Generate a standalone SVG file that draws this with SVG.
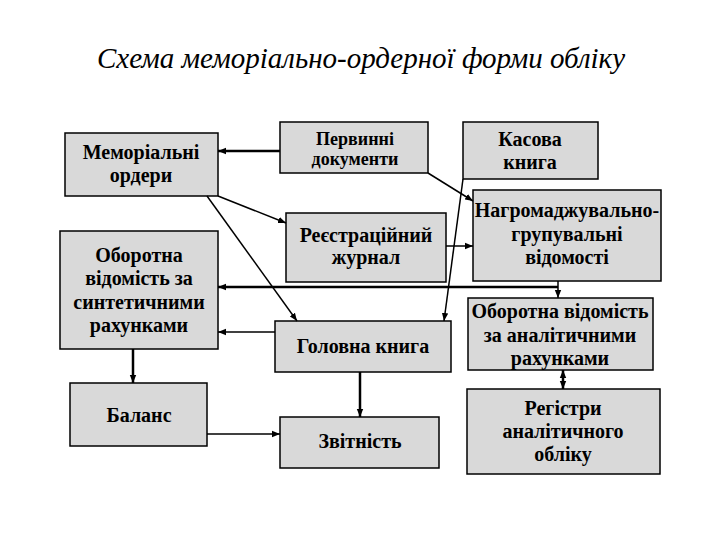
<svg xmlns="http://www.w3.org/2000/svg" width="720" height="540" viewBox="0 0 720 540">
<defs>
<marker id="ah2" viewBox="0 0 10 10" refX="10" refY="5" markerWidth="8" markerHeight="8" orient="auto-start-reverse" markerUnits="userSpaceOnUse">
<path d="M0,1 L10,5 L0,9 z" fill="#000"/>
</marker>
<style>
.box{fill:#d9d9d9;stroke:#000;stroke-width:1.5}
.t{font-family:'Liberation Serif',serif;font-weight:bold;font-size:20px;fill:#000;text-anchor:middle}
.ts{font-size:18px}
.title{font-family:'Liberation Serif',serif;font-style:italic;font-size:29px;fill:#000;text-anchor:middle}
.c{stroke:#000;stroke-width:1.5;fill:none}
.ct{stroke:#000;stroke-width:2.5;fill:none}
</style>
</defs>
<rect width="720" height="540" fill="#fff"/>
<text class="title" x="361" y="68">Схема меморіально-ордерної форми обліку</text>

<g id="memorialni">
<rect class="box" x="65" y="133" width="153" height="63"/>
<svg overflow="visible">
<text class="t" x="141" y="159">Меморіальні</text>
<text class="t" x="141" y="182">ордери</text>
</svg>
</g>
<g id="oborotna-synt">
<rect class="box" x="60" y="231" width="158" height="118"/>
<svg overflow="visible">
<text class="t" x="139" y="262">Оборотна</text>
<text class="t" x="139" y="285">відомість за</text>
<text class="t" x="139" y="309">синтетичними</text>
<text class="t" x="139" y="332">рахунками</text>
</svg>
</g>
<g id="balans">
<rect class="box" x="70" y="383" width="137" height="63"/>
<svg overflow="visible">
<text class="t" x="139" y="422">Баланс</text>
</svg>
</g>
<g id="pervynni">
<rect class="box" x="280" y="122" width="148" height="51"/>
<svg overflow="visible">
<text class="t ts" x="355" y="145">Первинні</text>
<text class="t ts" x="355" y="165">документи</text>
</svg>
</g>
<g id="reiestr">
<rect class="box" x="286" y="213" width="160" height="69"/>
<svg overflow="visible">
<text class="t" x="366" y="242">Реєстраційний</text>
<text class="t" x="366" y="264">журнал</text>
</svg>
</g>
<g id="holovna">
<rect class="box" x="275" y="321" width="176" height="51"/>
<svg overflow="visible">
<text class="t" x="363" y="353">Головна книга</text>
</svg>
</g>
<g id="zvitnist">
<rect class="box" x="280" y="417" width="159" height="51"/>
<svg overflow="visible">
<text class="t" x="360" y="448">Звітність</text>
</svg>
</g>
<g id="kasova">
<rect class="box" x="463" y="122" width="135" height="57"/>
<svg overflow="visible">
<text class="t" x="530" y="146">Касова</text>
<text class="t" x="530" y="169">книга</text>
</svg>
</g>
<g id="nagromadzh">
<rect class="box" x="473" y="190" width="188" height="91"/>
<svg overflow="visible">
<text class="t" x="567" y="217">Нагромаджувально-</text>
<text class="t" x="567" y="241">групувальні</text>
<text class="t" x="567" y="264">відомості</text>
</svg>
</g>
<g id="oborotna-anal">
<rect class="box" x="468" y="298" width="185" height="72"/>
<svg overflow="visible">
<text class="t" x="560" y="318">Оборотна відомість</text>
<text class="t" x="560" y="342">за аналітичними</text>
<text class="t" x="560" y="365">рахунками</text>
</svg>
</g>
<g id="rehistry">
<rect class="box" x="467" y="389" width="193" height="85"/>
<svg overflow="visible">
<text class="t" x="563" y="415">Регістри</text>
<text class="t" x="563" y="438">аналітичного</text>
<text class="t" x="563" y="461">обліку</text>
</svg>
</g>

<g id="connectors">
<line class="ct" x1="280" y1="151" x2="218" y2="151" marker-end="url(#ah2)"/>
<line class="c" x1="218" y1="196" x2="286" y2="223" marker-end="url(#ah2)"/>
<line class="c" x1="207" y1="196" x2="297" y2="321" marker-end="url(#ah2)"/>
<line class="c" x1="428" y1="173" x2="473" y2="201" marker-end="url(#ah2)"/>
<line class="c" x1="463" y1="179" x2="444" y2="321" marker-end="url(#ah2)"/>
<line class="c" x1="446" y1="246" x2="473" y2="246" marker-end="url(#ah2)"/>
<line class="c" x1="558" y1="281" x2="558" y2="298" marker-end="url(#ah2)"/>
<line class="ct" x1="558" y1="287" x2="218" y2="287" marker-end="url(#ah2)"/>
<line class="c" x1="275" y1="332" x2="218" y2="332" marker-end="url(#ah2)"/>
<line class="ct" x1="133" y1="349" x2="133" y2="383" marker-end="url(#ah2)"/>
<line class="ct" x1="360" y1="372" x2="360" y2="417" marker-end="url(#ah2)"/>
<line class="c" x1="207" y1="434" x2="280" y2="434" marker-end="url(#ah2)"/>
<line class="ct" x1="563" y1="370" x2="563" y2="389" marker-start="url(#ah2)" marker-end="url(#ah2)"/>
</g>
</svg>
